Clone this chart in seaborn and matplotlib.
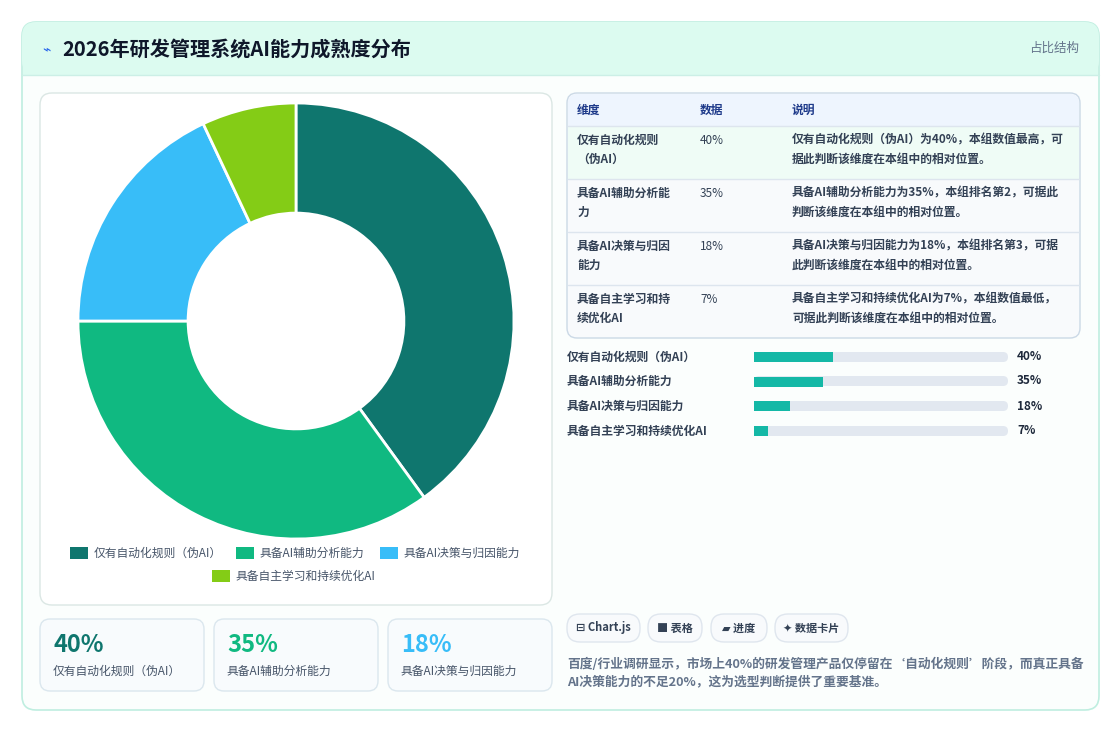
import matplotlib
matplotlib.use("Agg")
import matplotlib.pyplot as plt
import seaborn as sns
import pandas as pd
import numpy as np
from matplotlib.patches import FancyBboxPatch, Rectangle

sns.set_theme(style="white")
plt.rcParams['font.family'] = ['Noto Sans CJK SC', 'DejaVu Sans']

title = "2026年研发管理系统AI能力成熟度分布"
categories = ["仅有自动化规则（伪AI）", "具备AI辅助分析能力", "具备AI决策与归因能力", "具备自主学习和持续优化AI"]
table_names = ["仅有自动化规则\n（伪AI）", "具备AI辅助分析能\n力", "具备AI决策与归因\n能力", "具备自主学习和持\n续优化AI"]
values = [40, 35, 18, 7]
notes = ["仅有自动化规则（伪AI）为40%，本组数值最高，可\n据此判断该维度在本组中的相对位置。",
         "具备AI辅助分析能力为35%，本组排名第2，可据此\n判断该维度在本组中的相对位置。",
         "具备AI决策与归因能力为18%，本组排名第3，可据\n此判断该维度在本组中的相对位置。",
         "具备自主学习和持续优化AI为7%，本组数值最低，\n可据此判断该维度在本组中的相对位置。"]
colors = ["#0f766e", "#10b981", "#38bdf8", "#84cc16"]
buttons = ["⊟ Chart.js", "■ 表格", "▰ 进度", "✦ 数据卡片"]
footer = "百度/行业调研显示，市场上40%的研发管理产品仅停留在‘自动化规则’阶段，而真正具备\nAI决策能力的不足20%，这为选型判断提供了重要基准。"

W, H = 1120, 731
fig = plt.figure(figsize=(W/100, H/100), dpi=100)
fig.patch.set_facecolor("white")
bg = fig.add_axes([0, 0, 1, 1])
bg.set_xlim(0, W); bg.set_ylim(H, 0); bg.axis("off")

def rbox(x0, y0, x1, y1, fc, ec="none", r=10, lw=1, z=1):
    bg.add_patch(FancyBboxPatch((x0, y0), x1-x0, y1-y0, boxstyle=f"round,pad=0,rounding_size={r}",
                                fc=fc, ec=ec, lw=lw, zorder=z))

# outer card
rbox(22, 22, 1099, 710, "#fbfefd", "#bfeee0", r=14, lw=1.2)
rbox(22, 22, 1099, 75, "#dcfbf0", "none", r=14, z=1.5)
bg.add_patch(Rectangle((23, 55), 1075, 20, fc="#dcfbf0", ec="none", zorder=1.6))
bg.plot([22, 1099], [75, 75], color="#ccefe6", lw=1, zorder=2)
bg.text(42, 49, "⌁", color="#2563eb", fontsize=10, va="center", zorder=3, family=['DejaVu Sans'])
bg.text(62, 49, title, fontsize=14.5, fontweight="bold", color="#0f172a", va="center", zorder=3)
bg.text(1079, 48, "占比结构", fontsize=9, color="#64748b", ha="right", va="center", zorder=3)

# left panel
rbox(40, 93, 552, 605, "white", "#dbe7e4", r=12)
leg = [(70, 553, 0), (236, 553, 1), (380, 553, 2), (212, 576, 3)]
for x, y, i in leg:
    bg.add_patch(Rectangle((x, y-6), 18, 12, fc=colors[i], ec="none", zorder=3))
    bg.text(x+24, y, categories[i], fontsize=8.5, fontweight="medium", color="#475569", va="center", zorder=3)

# stat cards
for i, x0 in enumerate([40, 214, 388]):
    rbox(x0, 619, x0+164, 691, "#f8fbfd", "#dbe7ee", r=10)
    bg.text(x0+13, 645, f"{values[i]}%", fontsize=17, fontweight="bold", color=colors[i], va="center", zorder=3)
    bg.text(x0+13, 671, categories[i], fontsize=8.5, fontweight="medium", color="#475569", va="center", zorder=3)

# table
rbox(567, 93, 1080, 338, "#f8fafc", "#cbd9e6", r=10, z=2)
rbox(568, 94, 1079, 126, "#eef5fe", "none", r=9, z=2.1)
bg.add_patch(Rectangle((568, 110), 511, 16, fc="#eef5fe", ec="none", zorder=2.2))
bg.add_patch(Rectangle((568, 126), 511, 53, fc="#effcf6", ec="none", zorder=2.2))
for x, t in [(577, "维度"), (700, "数据"), (792, "说明")]:
    bg.text(x, 110, t, fontsize=8.5, fontweight="bold", color="#1e3a8a", va="center", zorder=3)
for j in range(4):
    y0 = 126 + 53*j
    bg.plot([568, 1079], [y0, y0], color="#dde5ee", lw=1, zorder=2.5)
    bg.text(577, y0+8, table_names[j], fontsize=8.5, fontweight="bold", color="#334155", va="top", linespacing=1.55, zorder=3)
    bg.text(700, y0+8, f"{values[j]}%", fontsize=8.5, fontweight="medium", color="#334155", va="top", zorder=3)
    bg.text(792, y0+8, notes[j], fontsize=8.5, fontweight="bold", color="#334155", va="top", linespacing=1.55, zorder=3)

ys = [357, 381, 406, 431]
for j, y in enumerate(ys):
    bg.text(567, y, categories[j], fontsize=8.5, fontweight="bold", color="#334155", va="center", zorder=3)
    bg.text(1017, y, f"{values[j]}%", fontsize=8.5, fontweight="bold", color="#1e293b", va="center", zorder=3)
    rbox(754, y-5, 1008, y+5, "#e2e8f0", "none", r=5, z=2)

bx = [(567, 640), (648, 702), (711, 767), (775, 848)]
for (x0, x1), t in zip(bx, buttons):
    rbox(x0, 614, x1, 642, "#f8fafc", "#dfe6ee", r=13, z=2)
    bg.text((x0+x1)/2, 628, t, fontsize=8, fontweight="bold", color="#334155", ha="center", va="center",
            zorder=3, family=['Noto Sans CJK SC', 'DejaVu Sans'])
bg.text(567, 673, footer, fontsize=9.2, fontweight="bold", color="#64748b", va="center", linespacing=1.5, zorder=3)

# donut
cx, cy, R = 296, 321, 218
dax = fig.add_axes([(cx-R)/W, 1-(cy+R)/H, 2*R/W, 2*R/H])
dax.pie(values, colors=colors, startangle=90, counterclock=False, radius=1,
        wedgeprops=dict(width=0.505, edgecolor="white", linewidth=2))
dax.set_xlim(-1, 1); dax.set_ylim(-1, 1)
dax.set_aspect("equal")

# progress bars with seaborn
top, bot = 357 - 12.5, 431 + 12.5
pax = fig.add_axes([754/W, 1-bot/H, 254/W, (bot-top)/H])
df = pd.DataFrame({"cat": categories, "val": values})
sns.barplot(data=df, x="val", y="cat", ax=pax, color="#14b8a6", width=0.41, saturation=1,
            edgecolor="none", linewidth=0)
pax.set_xlim(0, 128)
pax.axis("off")
pax.patch.set_alpha(0)

fig.savefig("out.png", dpi=100)
